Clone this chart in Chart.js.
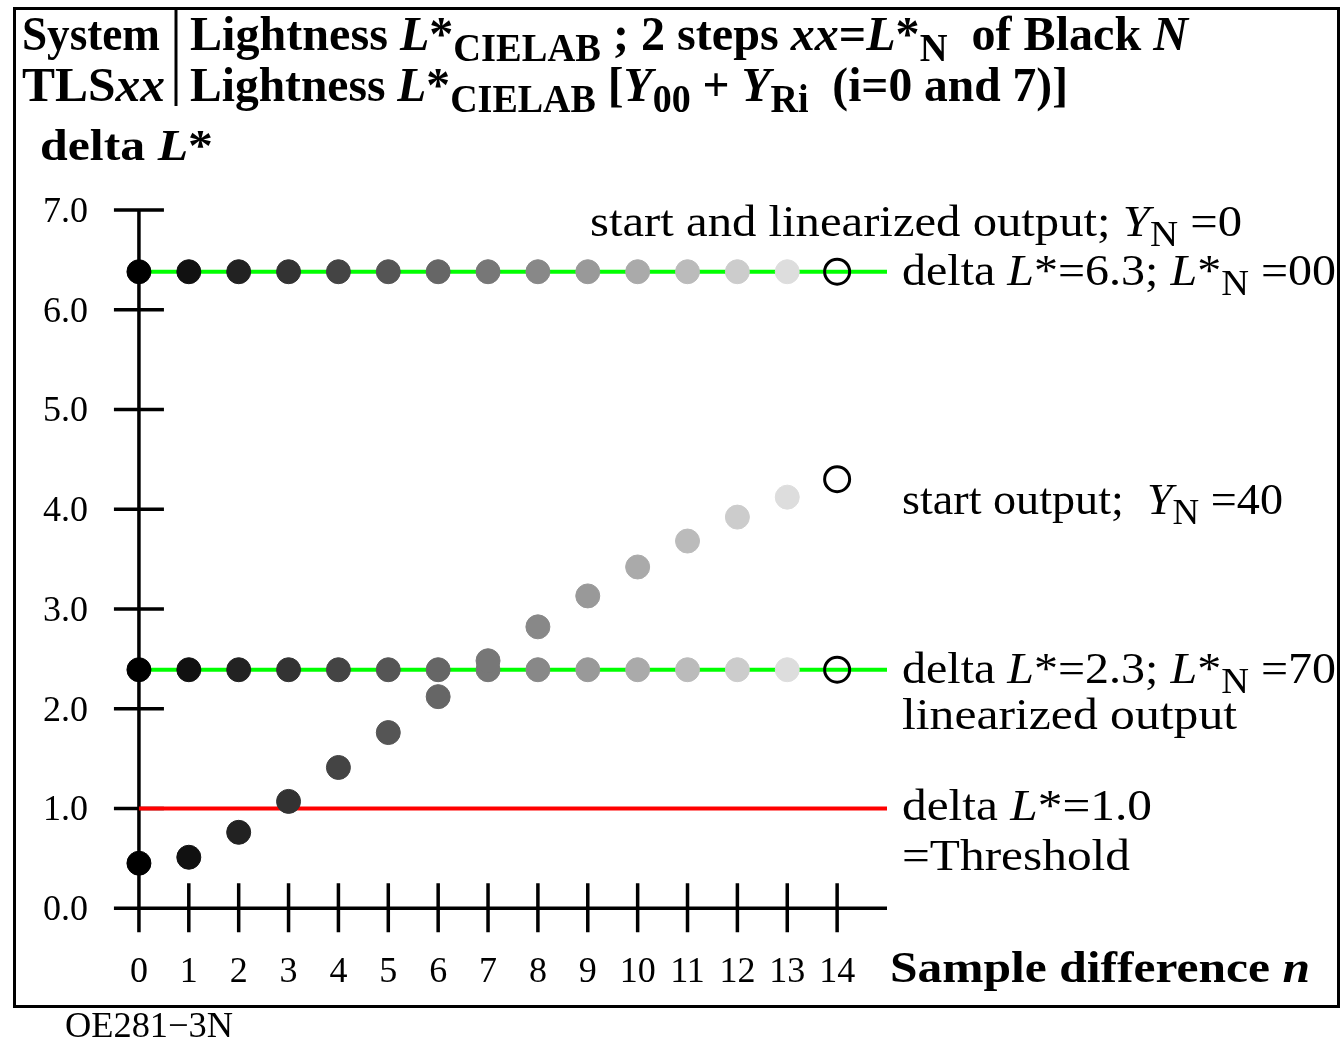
<!DOCTYPE html>
<html><head><meta charset="utf-8">
<script src="https://cdn.jsdelivr.net/npm/chart.js@4"></script>
<style>html,body{margin:0;padding:0;background:#fff;overflow:hidden}canvas{display:block}</style>
</head><body>
<canvas id="c" width="1344" height="1042"></canvas>
<script>
// ---- data ----
const sampleN = [0,1,2,3,4,5,6,7,8,9,10,11,12,13,14];
const startLinY0 = [6.38,6.38,6.38,6.38,6.38,6.38,6.38,6.38,6.38,6.38,6.38,6.38,6.38,6.38,6.38];
const startY40 = [0.45,0.51,0.76,1.07,1.41,1.76,2.12,2.48,2.82,3.13,3.42,3.68,3.92,4.12,4.30];
const linY40 = [2.39,2.39,2.39,2.39,2.39,2.39,2.39,2.39,2.39,2.39,2.39,2.39,2.39,2.39,2.39];
const pointGrays = ['#000000','#111111','#222222','#333333','#444444','#555555','#666666','#777777','#888888','#999999','#aaaaaa','#bbbbbb','#cccccc','#dddddd','open'];
const thresholdLevel = 1.0;
const xTickValues = [0,1,2,3,4,5,6,7,8,9,10,11,12,13,14];
const xTickLabels = ['0','1','2','3','4','5','6','7','8','9','10','11','12','13','14'];
const yTickValues = [0,1,2,3,4,5,6,7];
const yTickLabels = ['0.0','1.0','2.0','3.0','4.0','5.0','6.0','7.0'];
const xMin = -0.5, xMax = 15, yMin = -0.5, yMax = 7.5;

// ---- styles ----
const FONT = '"Liberation Serif"';
const bg = pointGrays.map(c => c === 'open' ? 'rgba(0,0,0,0)' : c);
const bc = pointGrays.map(c => c === 'open' ? '#000000' : c);
const bw = pointGrays.map(c => c === 'open' ? 3 : 1);
const pr = pointGrays.map(c => c === 'open' ? 12.5 : 12);

function pts(ys){ return sampleN.map((n,i)=>({x:n,y:ys[i]})); }
function hline(level){ return [{x:0,y:level},{x:xMax,y:level}]; }

function fontFor(s,size){
  const sz = s.sub ? size*0.8 : size;
  return (s.i?'italic ':'') + (s.b?'bold ':'') + sz + 'px ' + FONT;
}
function drawRich(ctx, segs, x, y, size, targetW){
  let w = 0;
  for (const s of segs){ ctx.font = fontFor(s,size); w += ctx.measureText(s.t).width; }
  const k = targetW ? targetW / w : 1;
  ctx.save(); ctx.translate(x,y); ctx.scale(k,1);
  ctx.fillStyle = '#000'; ctx.textAlign = 'left'; ctx.textBaseline = 'alphabetic';
  let cx = 0;
  for (const s of segs){
    ctx.font = fontFor(s,size);
    ctx.fillText(s.t, cx, s.sub ? size*0.22 : 0);
    cx += ctx.measureText(s.t).width;
  }
  ctx.restore();
}

const axesPlugin = {
  id:'axesPlugin',
  beforeDatasetsDraw(chart){
    const ctx = chart.ctx, xs = chart.scales.x, ys = chart.scales.y;
    const x0 = xs.getPixelForValue(0), y0 = ys.getPixelForValue(0);
    ctx.save();
    ctx.strokeStyle = '#000'; ctx.lineWidth = 3.5; ctx.lineCap = 'butt';
    ctx.beginPath();
    ctx.moveTo(x0, ys.getPixelForValue(yTickValues[yTickValues.length-1]) - 1.5);
    ctx.lineTo(x0, y0 + 24);
    ctx.moveTo(xs.getPixelForValue(xMin), y0);
    ctx.lineTo(xs.getPixelForValue(xMax), y0);
    for (const v of yTickValues){ const p = ys.getPixelForValue(v); ctx.moveTo(x0-25,p); ctx.lineTo(x0+25,p); }
    for (const v of xTickValues){ const p = xs.getPixelForValue(v); ctx.moveTo(p,y0-25); ctx.lineTo(p,y0+24); }
    ctx.stroke();
    ctx.fillStyle = '#000';
    ctx.font = '36px ' + FONT;
    ctx.textAlign = 'right';
    yTickValues.forEach((v,i)=>{ ctx.fillText(yTickLabels[i], 88, ys.getPixelForValue(v)+12); });
    ctx.textAlign = 'center';
    xTickValues.forEach((v,i)=>{ ctx.fillText(xTickLabels[i], xs.getPixelForValue(v), y0+74); });
    ctx.restore();
  },
  afterDraw(chart){
    const ctx = chart.ctx;
    ctx.save();
    ctx.strokeStyle = '#000'; ctx.lineWidth = 3;
    ctx.strokeRect(14.5, 8.5, 1324, 998);
    ctx.beginPath(); ctx.moveTo(176, 8); ctx.lineTo(176, 106); ctx.stroke();
    drawRich(ctx, [{t:'System',b:1}], 22, 50, 49, 138);
    drawRich(ctx, [{t:'Lightness ',b:1},{t:'L',b:1,i:1},{t:'*',b:1},{t:'CIELAB',b:1,sub:1},{t:' ; 2 steps ',b:1},{t:'xx',b:1,i:1},{t:'=',b:1},{t:'L',b:1,i:1},{t:'*',b:1},{t:'N',b:1,sub:1},{t:'  of Black ',b:1},{t:'N',b:1,i:1}], 190, 50, 49, 998);
    drawRich(ctx, [{t:'TLS',b:1},{t:'xx',b:1,i:1}], 22, 101, 49, 143);
    drawRich(ctx, [{t:'Lightness ',b:1},{t:'L',b:1,i:1},{t:'*',b:1},{t:'CIELAB',b:1,sub:1},{t:' [',b:1},{t:'Y',b:1,i:1},{t:'00',b:1,sub:1},{t:' + ',b:1},{t:'Y',b:1,i:1},{t:'Ri',b:1,sub:1},{t:'  (i=0 and 7)]',b:1}], 190, 101, 49, 878);
    drawRich(ctx, [{t:'delta ',b:1},{t:'L',b:1,i:1},{t:'*',b:1}], 40, 160, 45, 173);
    drawRich(ctx, [{t:'start and linearized output; '},{t:'Y',i:1},{t:'N',sub:1},{t:' =0'}], 590, 236, 44, 652);
    drawRich(ctx, [{t:'delta '},{t:'L',i:1},{t:'*=6.3; '},{t:'L',i:1},{t:'*'},{t:'N',sub:1},{t:' =00'}], 902, 285, 44, 434);
    drawRich(ctx, [{t:'start output;  '},{t:'Y',i:1},{t:'N',sub:1},{t:' =40'}], 902, 514, 44, 381);
    drawRich(ctx, [{t:'delta '},{t:'L',i:1},{t:'*=2.3; '},{t:'L',i:1},{t:'*'},{t:'N',sub:1},{t:' =70'}], 902, 683, 44, 434);
    drawRich(ctx, [{t:'linearized output'}], 902, 729, 44, 335);
    drawRich(ctx, [{t:'delta '},{t:'L',i:1},{t:'*=1.0'}], 902, 820, 44, 250);
    drawRich(ctx, [{t:'=Threshold'}], 902, 870, 44, 228);
    drawRich(ctx, [{t:'Sample difference ',b:1},{t:'n',b:1,i:1}], 890, 982, 45, 420);
    drawRich(ctx, [{t:'OE281\u22123N'}], 65, 1037, 36, 168);
    ctx.restore();
  }
};

function build(){
  new Chart(document.getElementById('c').getContext('2d'), {
    type:'scatter',
    data:{datasets:[
      {label:'start output; YN=40', data:pts(startY40), pointRadius:pr, pointBackgroundColor:bg, pointBorderColor:bc, pointBorderWidth:bw, clip:false, order:1},
      {label:'start and linearized output; YN=0', data:pts(startLinY0), pointRadius:pr, pointBackgroundColor:bg, pointBorderColor:bc, pointBorderWidth:bw, clip:false, order:2},
      {label:'linearized output; YN=40', data:pts(linY40), pointRadius:pr, pointBackgroundColor:bg, pointBorderColor:bc, pointBorderWidth:bw, clip:false, order:3},
      {type:'line', label:'level 6.3', data:hline(startLinY0[0]), borderColor:'#00ff00', borderWidth:4, pointRadius:0, order:10, clip:false},
      {type:'line', label:'level 2.3', data:hline(linY40[0]), borderColor:'#00ff00', borderWidth:4, pointRadius:0, order:10, clip:false},
      {type:'line', label:'threshold', data:hline(thresholdLevel), borderColor:'#ff0000', borderWidth:4, pointRadius:0, order:10, clip:false}
    ]},
    options:{
      responsive:false, animation:false, devicePixelRatio:1,
      layout:{padding:{left:114,right:457,top:160,bottom:84}},
      scales:{x:{type:'linear',min:xMin,max:xMax,display:false}, y:{type:'linear',min:yMin,max:yMax,display:false}},
      plugins:{legend:{display:false}, tooltip:{enabled:false}},
      events:[]
    },
    plugins:[axesPlugin]
  });
}
const loads = ['36px','bold 36px','italic 36px','italic bold 36px'].map(f => document.fonts.load(f + ' "Liberation Serif"'));
Promise.all(loads).then(build, build);
</script>
</body></html>
